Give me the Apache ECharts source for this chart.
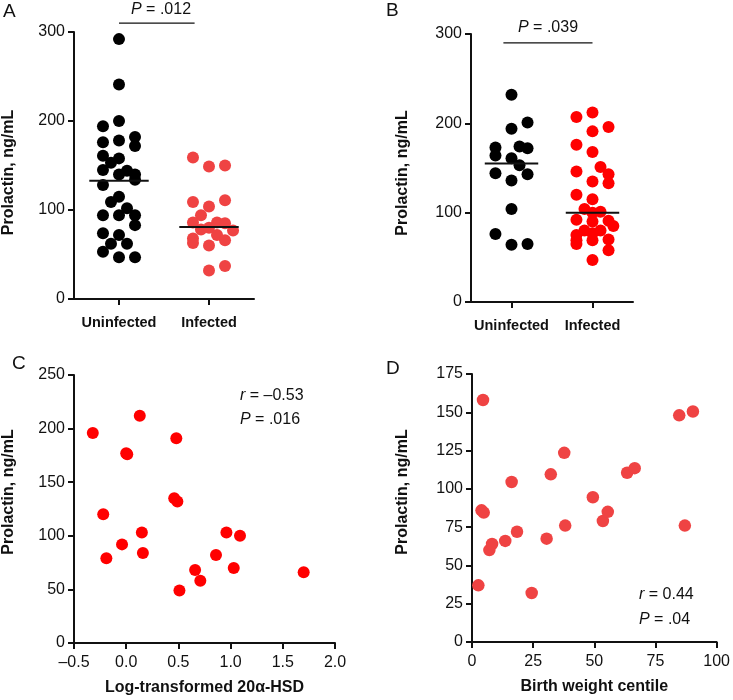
<!DOCTYPE html>
<html>
<head>
<meta charset="utf-8">
<script src="https://cdn.jsdelivr.net/npm/echarts@6/dist/echarts.min.js"></script>
<style>
  html, body { margin: 0; padding: 0; background: #fff; }
  #chart { width: 733px; height: 700px; }
</style>
</head>
<body>
<div id="chart"></div>
<script>
// group names for panels A and B
const groups = ['Uninfected', 'Infected']

// panel A: prolactin values, with swarm column (-2..3) of each dot
const aUninfVals = [292, 241, 200, 194, 182, 178, 176, 172, 161, 158, 153, 145, 140, 144, 140, 134, 128, 115, 109, 102, 94, 94, 94, 83, 74, 72, 62, 62, 53, 47, 47]
const aUninfCols = [0, 0, 0, -2, 2, 0, -2, 2, -2, 0, -1, -2, 0, 1, 2, 2, -2, 0, -1, 1, -2, 0, 2, 2, -2, 0, -1, 1, -2, 0, 2]
const aInfVals = [159, 149, 150, 109, 104, 111, 94, 86, 86, 85, 78, 80, 72, 77, 68, 63, 60, 66, 32, 37]
const aInfCols = [-2, 0, 2, -2, 0, 2, -1, -2, 1, 2, -1, 0, 1, 3, -2, -2, 0, 2, 0, 2]
const aMedians = [133, 81]

// panel B
const bUninfVals = [232, 201, 194, 173, 164, 174, 172, 161, 153, 144, 143, 136, 104, 76, 64, 65]
const bUninfCols = [0, 2, 0, -2, -2, 1, 2, 0, 1, -2, 2, 0, 0, -2, 0, 2]
const bInfVals = [207, 212, 191, 196, 176, 168, 146, 151, 143, 133, 135, 120, 115, 104, 101, 100, 92, 90, 91, 85, 80, 80, 75, 77, 69, 69, 70, 65, 58, 47]
const bInfCols = [-2, 0, 0, 2, -2, 0, -2, 1, 2, 2, 0, -2, 0, -1, 1, 0, -2, 0, 2, 2.6, -1, 1, -2, 0, -2, 0, 2, -2, 2, 0]
const bMedians = [155, 100]

// panel C: log-transformed 20a-HSD vs prolactin
const cX = [-0.32, 0.13, 0.00, 0.01, 0.48, 0.46, 0.49, -0.22, 0.15, -0.04, -0.19, 0.16, 0.51, 0.66, 0.71, 0.86, 0.96, 1.09, 1.03, 1.70]
const cY = [196, 212, 177, 176, 191, 135, 132, 120, 103, 92, 79, 84, 49, 68, 58, 82, 103, 100, 70, 66]

// panel D: birth weight centile vs prolactin
const dX = [4.5, 2.6, 3.9, 4.8, 7.1, 8.2, 13.6, 16.2, 18.4, 24.4, 30.5, 32.2, 37.7, 38.1, 49.4, 53.5, 55.5, 63.4, 66.5, 84.7, 90.3, 87.0]
const dY = [158, 37, 86, 84.5, 60, 64, 66, 104.5, 72, 32, 67.5, 109.5, 123.5, 76, 94.5, 79, 85, 110.5, 113.5, 148, 150.5, 76]

const FONT = 'Arial, "Liberation Sans", Helvetica, sans-serif'
const INK = '#111'
const RED_LIGHT = '#ef4343'
const RED = '#ff0000'

function swarm(vals, cols, center, step) {
    return vals.map((v, i) => [center + cols[i] * step, v])
}

function medianLine(center, value) {
    return [[center - 0.33, value], [center + 0.33, value]]
}

function yAxisOf(grid, max, interval, gap, padding) {
    return {
        gridIndex: grid,
        type: 'value',
        min: 0,
        max: max,
        interval: interval,
        name: 'Prolactin, ng/mL',
        nameLocation: 'middle',
        nameGap: gap,
        nameTextStyle: { fontFamily: FONT, fontSize: 16, fontWeight: 'bold', color: INK, padding: padding },
        axisLine: { show: true, onZero: false, lineStyle: { color: INK, width: 2 } },
        axisTick: { show: true, length: 6, lineStyle: { color: INK, width: 2 } },
        axisLabel: { fontFamily: FONT, fontSize: 16, color: INK, margin: 9 },
        splitLine: { show: false }
    }
}

function groupXAxis(grid) {
    return {
        gridIndex: grid,
        type: 'value',
        min: 0.5,
        max: 2.5,
        axisLine: { show: true, onZero: false, lineStyle: { color: INK, width: 2 } },
        axisTick: { show: true, length: 6, customValues: [1, 2], lineStyle: { color: INK, width: 2 } },
        axisLabel: {
            customValues: [1, 2],
            formatter: v => groups[Math.round(v) - 1],
            fontFamily: FONT, fontSize: 14.5, fontWeight: 'bold', color: INK, margin: 16
        },
        splitLine: { show: false }
    }
}

function numXAxis(grid, min, max, interval, name, fmt) {
    return {
        gridIndex: grid,
        type: 'value',
        min: min,
        max: max,
        interval: interval,
        name: name,
        nameLocation: 'middle',
        nameGap: 37,
        nameTextStyle: { fontFamily: FONT, fontSize: 16, fontWeight: 'bold', color: INK },
        axisLine: { show: true, onZero: false, lineStyle: { color: INK, width: 2 } },
        axisTick: { show: true, length: 6, lineStyle: { color: INK, width: 2 } },
        axisLabel: { fontFamily: FONT, fontSize: 16, color: INK, margin: 12, formatter: fmt },
        splitLine: { show: false }
    }
}

function dots(idx, data, color, size) {
    return {
        type: 'scatter',
        xAxisIndex: idx,
        yAxisIndex: idx,
        data: data,
        symbolSize: size,
        itemStyle: { color: color, opacity: 1 },
        z: 2
    }
}

function hline(idx, data, width) {
    return {
        type: 'line',
        xAxisIndex: idx,
        yAxisIndex: idx,
        data: data,
        symbol: 'none',
        clip: false,
        lineStyle: { color: INK, width: width },
        z: 3
    }
}

function label(x, y, text, size, align) {
    return {
        type: 'text',
        x: x,
        y: y,
        style: {
            text: text,
            fontFamily: FONT,
            fontSize: size,
            fill: INK,
            align: align || 'left',
            verticalAlign: 'middle',
            rich: { i: { fontStyle: 'italic', fontFamily: FONT, fontSize: size, fill: INK } }
        }
    }
}

const chart = echarts.init(document.getElementById('chart'))

const option = {
    backgroundColor: '#fff',
    animation: false,
    grid: [
        { left: 74, top: 32, width: 180, height: 267 },
        { left: 471, top: 34, width: 162, height: 268 },
        { left: 74, top: 375, width: 261, height: 268 },
        { left: 472, top: 374, width: 256, height: 268 }
    ],
    xAxis: [
        groupXAxis(0),
        groupXAxis(1),
        numXAxis(2, -0.5, 2.0, 0.5, 'Log-transformed 20α-HSD',
            v => (v < 0 ? '–' + (-v).toFixed(1) : v.toFixed(1))),
        numXAxis(3, 0, 100, 25, 'Birth weight centile', v => String(v))
    ],
    yAxis: [
        yAxisOf(0, 300, 100, 57, [0, 14, 0, 0]),
        yAxisOf(1, 300, 100, 60, [0, 10, 0, 0]),
        yAxisOf(2, 250, 50, 57, [0, 0, 0, 34]),
        yAxisOf(3, 175, 25, 61, [0, 0, 0, 32])
    ],
    series: [
        dots(0, swarm(aUninfVals, aUninfCols, 1, 0.089), '#000', 12),
        dots(0, swarm(aInfVals, aInfCols, 2, 0.089), RED_LIGHT, 12),
        hline(0, medianLine(1, aMedians[0]), 2),
        hline(0, medianLine(2, aMedians[1]), 2),
        hline(0, [[1, 310], [1.84, 310]], 1.2),

        dots(1, swarm(bUninfVals, bUninfCols, 1, 0.099), '#000', 12),
        dots(1, swarm(bInfVals, bInfCols, 2, 0.099), RED, 12),
        hline(1, medianLine(1, bMedians[0]), 2),
        hline(1, medianLine(2, bMedians[1]), 2),
        hline(1, [[0.9, 290], [2.0, 290]], 1.2),

        dots(2, cX.map((x, i) => [x, cY[i]]), RED, 12),
        dots(3, dX.map((x, i) => [x, dY[i]]), RED_LIGHT, 12.5)
    ],
    graphic: [
        label(3, 12, 'A', 19),
        label(386, 11, 'B', 19),
        label(12, 364, 'C', 19),
        label(386, 369, 'D', 19),
        label(161, 10, '{i|P} = .012', 16, 'center'),
        label(548, 28, '{i|P} = .039', 16, 'center'),
        label(240, 396, '{i|r} = –0.53', 16),
        label(240, 420, '{i|P} = .016', 16),
        label(639, 595, '{i|r} = 0.44', 16),
        label(639, 620, '{i|P} = .04', 16)
    ]
}

chart.setOption(option)
</script>
</body>
</html>
